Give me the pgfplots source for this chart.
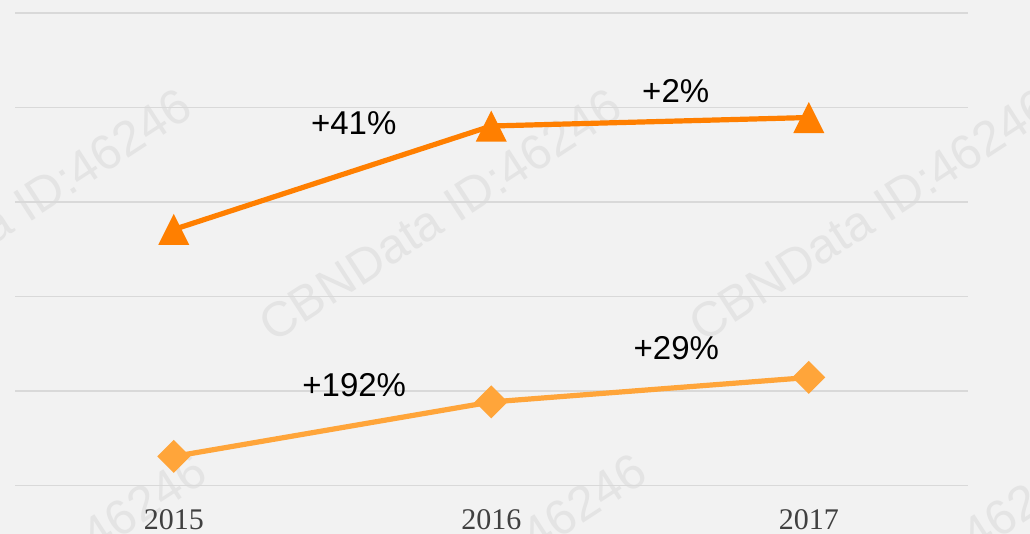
\documentclass[border=0pt]{standalone}
\usepackage{fontspec}
\setmainfont{Liberation Serif}
\newfontfamily\arial{Liberation Sans}
\usepackage{pgfplots}
\pgfplotsset{compat=1.18}
\definecolor{bg}{HTML}{F2F2F2}
\definecolor{gridc}{HTML}{D9D9D9}
\definecolor{wm}{HTML}{E4E4E4}
\definecolor{darkor}{HTML}{FF7F00}
\definecolor{lightor}{HTML}{FFA53A}
\definecolor{ticktext}{HTML}{404040}
\pgfdeclareplotmark{xtri}{%
  \pgfpathmoveto{\pgfqpoint{0pt}{15.5pt}}%
  \pgfpathlineto{\pgfqpoint{15.5pt}{-15.5pt}}%
  \pgfpathlineto{\pgfqpoint{-15.5pt}{-15.5pt}}%
  \pgfpathclose\pgfusepathqfill}
\pgfdeclareplotmark{xdia}{%
  \pgfpathmoveto{\pgfqpoint{0pt}{16.5pt}}%
  \pgfpathlineto{\pgfqpoint{16.5pt}{0pt}}%
  \pgfpathlineto{\pgfqpoint{0pt}{-16.5pt}}%
  \pgfpathlineto{\pgfqpoint{-16.5pt}{0pt}}%
  \pgfpathclose\pgfusepathqfill}
\begin{document}
\begin{tikzpicture}
\path[use as bounding box] (0,0) rectangle (1030pt,534pt);
\clip (0,0) rectangle (1030pt,534pt);
\fill[bg] (0,0) rectangle (1030pt,534pt);
\foreach \x/\y in {10/215,440/215,870/215,25/580,465/580,905/580}
  \node[rotate=33, text=wm, font=\arial\fontsize{49}{50}\selectfont, inner sep=0pt] at ({\x*1pt},{(534-\y)*1pt}) {CBNData ID:46246};
\begin{axis}[
  at={(15pt,48.5pt)}, anchor=south west,
  scale only axis, width=952.5pt, height=472.5pt,
  xmin=-0.5, xmax=2.5, ymin=0, ymax=5,
  clip=false,
  axis line style={draw=none}, tick style={draw=none},
  xtick={0,1,2}, xticklabels={2015,2016,2017},
  ytick={0,1,2,3,4,5}, yticklabels={},
  ymajorgrids, grid style={gridc, line width=1.5pt},
  xticklabel style={anchor=base, yshift=-44.5pt, text=ticktext, font=\fontsize{30}{31}\selectfont},
]
\addplot[darkor, line width=5.2pt, mark=xtri] coordinates {(0,2.709)(1,3.804)(2,3.894)};
\addplot[lightor, line width=5.2pt, mark=xdia] coordinates {(0,0.307)(1,0.884)(2,1.143)};
\node[anchor=base, font=\arial\fontsize{33}{34}\selectfont] at (axis cs:0.567,3.709) {+41\%};
\node[anchor=base, font=\arial\fontsize{33}{34}\selectfont] at (axis cs:1.581,4.058) {+2\%};
\node[anchor=base, font=\arial\fontsize{33}{34}\selectfont] at (axis cs:0.5685,0.947) {+192\%};
\node[anchor=base, font=\arial\fontsize{33}{34}\selectfont] at (axis cs:1.583,1.328) {+29\%};
\end{axis}
\end{tikzpicture}
\end{document}
